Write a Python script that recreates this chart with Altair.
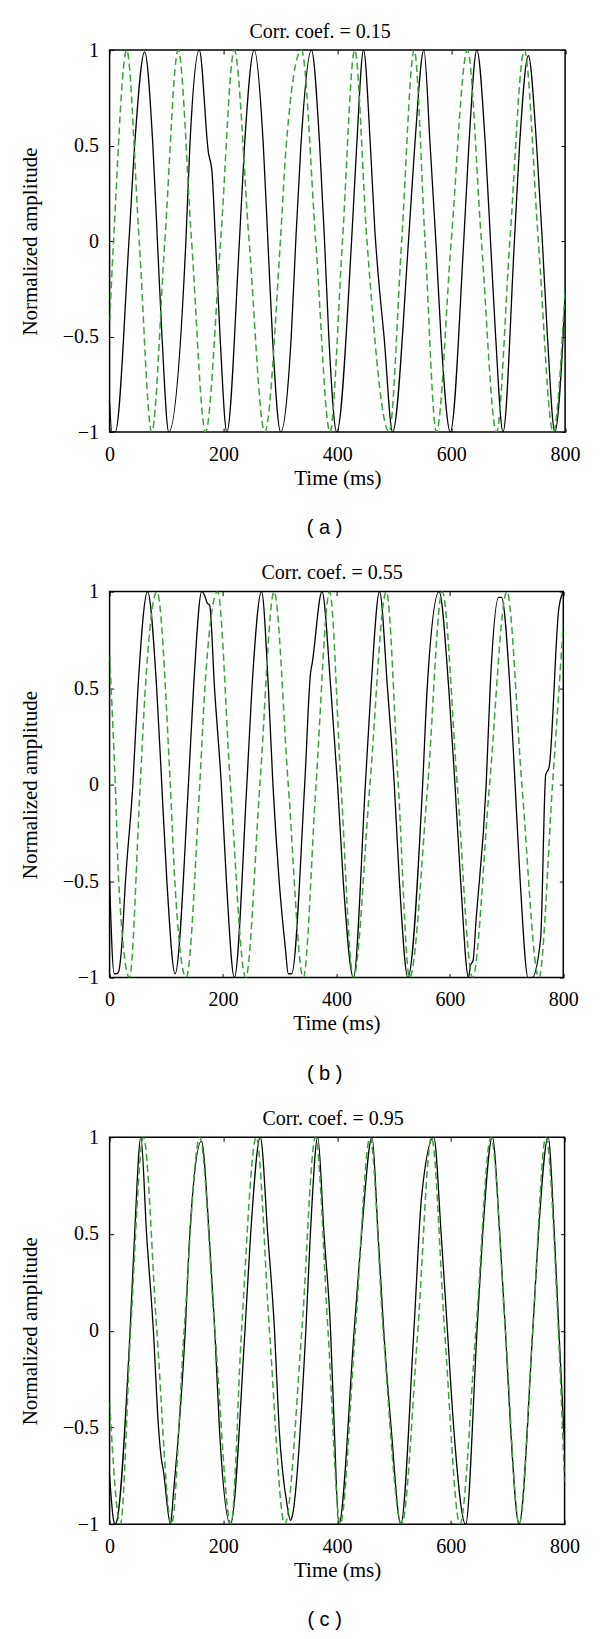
import altair as alt
import pandas as pd

SERIF = "Liberation Serif"
SANS = "Liberation Sans"
BLACK = "#000000"
GREEN = "#3ca03c"

X_TICKS = [0, 200, 400, 600, 800]
Y_TICKS = [-1, -0.5, 0, 0.5, 1]

TITLES = ["Corr. coef. = 0.15", "Corr. coef. = 0.55", "Corr. coef. = 0.95"]
LABELS = ["( a )", "( b )", "( c )"]
X_TITLE = "Time (ms)"
Y_TITLE = "Normalized amplitude"

# ---- panel (a) ----
a_black_t = [0, 4, 10, 34, 44, 61.5, 76, 84, 92, 104, 134, 141, 157.5, 173.7, 179.6, 186, 194, 206,
             228, 237, 254, 270, 278, 286, 300.5, 319, 327, 336, 354.5, 369, 377.5, 385, 399,
             425, 434, 446, 458, 466, 471, 482, 497, 525, 536, 552, 563, 573, 582, 598.5,
             622, 631, 645, 660, 669, 678, 691, 711, 720, 735.5, 750, 760, 769, 782, 800]
a_black_v = [-0.85, -1, -1, 0, 0.5, 0.99, 0.5, 0, -0.5, -1, 0, 0.5, 1, 0.46, 0.37, 0, -0.5, -1,
             0, 0.5, 1, 0.5, 0, -0.5, -1, -0.5, 0, 0.5, 1, 0.5, 0, -0.5, -1,
             0, 0.5, 1, 0.5, 0.05, -0.15, -0.5, -1, 0, 0.5, 1, 0.5, 0, -0.5, -1,
             0, 0.5, 1, 0.5, 0, -0.5, -1, 0, 0.5, 0.97, 0.5, 0, -0.5, -1, -0.3]
a_green_t = [0, 7, 30, 52, 74, 97, 120.5, 144, 168.5, 195, 219, 245, 272.5, 300, 309, 337, 362, 387,
             409, 430.5, 452, 491, 513, 535, 554, 574, 600, 628.5, 653, 679.5, 703, 728.5, 753, 779, 800]
a_green_v = [-0.42, 0, 1, 0, -1, 0, 1, 0, -1, 0, 1, 0, -1, 0, 0.45, 1, 0, -1,
             0, 1, 0, -1, 0, 1, 0, -1, 0, 1, 0, -1, 0, 1, 0, -1, -0.25]

# ---- panel (b) ----
b_black_t = [0, 8, 12, 15.8, 20.5, 28, 41, 50, 67, 83, 92, 101, 115.5, 139, 148, 162.5, 167.6, 172.2,
             176.4, 185, 197, 206, 220, 242, 251, 268, 280, 288, 299, 310, 315, 321, 344, 354.4,
             357.3, 374.5, 390, 402, 412, 430, 451, 461, 476, 490, 502, 511, 526, 552, 560, 581,
             598, 609, 619, 633, 636, 641, 646, 664, 671, 686, 691, 706, 715, 724, 738, 745,
             760, 769, 775, 792, 800]
b_black_v = [-0.5, -0.98, -0.98, -0.97, -0.87, -0.5, 0, 0.5, 1, 0.5, 0, -0.5, -0.98, 0, 0.5, 1, 0.98, 0.94,
             0.93, 0.5, 0, -0.5, -1, 0, 0.5, 1, 0.5, 0, -0.5, -0.85, -0.98, -0.98, 0, 0.58,
             0.63, 1, 0.5, 0, -0.5, -1, 0, 0.5, 1, 0.5, 0, -0.5, -1, 0, 0.5, 1,
             0.5, 0, -0.5, -1, -0.94, -0.91, -0.71, 0, 0.5, 0.97, 0.97, 0.5, 0, -0.5, -1, -1,
             -0.8, 0.05, 0.09, 0.91, 1]
b_green_t = [0, 10, 16, 35, 54, 63, 83.5, 107, 115, 135, 159, 168, 190.5, 213, 240, 265, 290, 315,
             341.5, 364, 388, 408, 430, 459, 488, 509, 529, 561, 586.5, 613, 640, 670, 700.5,
             727, 757, 781, 800]
b_green_v = [0.67, 0, -0.5, -1, 0, 0.5, 1, 0, -0.5, -1, 0, 0.5, 1, 0, -1, 0, 1, 0,
             -1, 0, 1, 0, -1, 0, 1, 0, -1, 0, 1, 0, -1, 0, 1,
             0, -1, 0, 0.83]

# ---- panel (c) ----
c_black_t = [0, 7, 10, 13, 36, 44, 55, 65, 77, 86, 91.4, 94.4, 107, 112.3, 133, 141, 161.5, 175, 185,
             193, 212.5, 238, 248, 265, 278, 290, 298, 312, 318, 321, 345, 353, 366, 377, 388.5,
             395, 403, 430, 443, 461.5, 472, 482, 495, 512, 535, 548.5, 570, 583, 594, 605, 626,
             646, 656, 673, 686, 696, 705, 720, 744, 754, 771, 782, 790, 800]
c_black_v = [-0.75, -0.98, -1, -0.98, 0, 0.5, 1, 0.5, 0, -0.5, -0.67, -0.72, -1, -0.84, 0, 0.5, 0.98, 0.5, 0,
             -0.5, -1, 0, 0.5, 1, 0.5, 0, -0.5, -0.9, -0.98, -0.96, 0, 0.5, 1, 0.5, 0,
             -0.5, -1, 0, 0.5, 1, 0.5, 0, -0.5, -1, 0, 0.69, 1, 0.5, 0, -0.5, -1,
             0, 0.5, 1, 0.5, 0, -0.5, -1, 0, 0.5, 1, 0.5, 0, -0.6]
c_green_t = [0, 19, 37, 59.5, 83, 109, 131, 158.5, 185, 213.5, 232, 258, 281, 308, 338, 362, 384,
             405.5, 432, 458, 481, 513.5, 542, 566, 589, 616, 644, 670.5, 696, 720, 744, 767, 789, 800]
c_green_v = [-0.37, -1, 0, 1, 0, -1, 0, 1, 0, -1, 0, 1, 0, -1, 0, 1, 0,
             -1, 0, 1, 0, -1, 0, 1, 0, -1, 0, 1, 0, -1, 0, 1, 0, -0.78]

Y_LABEL_EXPR = "datum.value < 0 ? '\u2212' + format(-datum.value, '~g') : format(datum.value, '~g')"


def line_df(t, v):
    return pd.DataFrame({"t": t, "v": v})


def panel(bt, bv, gt, gv, title, label, w, h, title_x, label_dx, ytitle_pad):
    xs = alt.Scale(domain=[0, 800], nice=False, zero=False)
    ys = alt.Scale(domain=[-1, 1], nice=False, zero=False)
    x_bottom = alt.Axis(orient="bottom", values=X_TICKS, format="d", title=X_TITLE,
                        offset=-4, tickSize=4, labelPadding=12, labelFlush=False,
                        titleBaseline="alphabetic", titleY=56, titleAlign="center",
                        titleFontSize=21)
    y_left = alt.Axis(orient="left", values=Y_TICKS, labelExpr=Y_LABEL_EXPR, title=Y_TITLE,
                      offset=-4, tickSize=4, labelPadding=11, labelFlush=False,
                      titlePadding=ytitle_pad, titleFontSize=21)
    x_top = alt.Axis(orient="top", values=X_TICKS, labels=False, title=title,
                     offset=-4, tickSize=4, titleX=title_x, titleY=-17,
                     titleBaseline="alphabetic", titleAlign="center", titleFontSize=20)
    y_right = alt.Axis(orient="right", values=Y_TICKS, labels=False, title=None,
                       offset=-4, tickSize=4)
    black = alt.Chart(line_df(bt, bv)).mark_line(
        color=BLACK, strokeWidth=1.3, interpolate="monotone", clip=True
    ).encode(
        x=alt.X("t:Q", scale=xs, axis=x_bottom),
        y=alt.Y("v:Q", scale=ys, axis=y_left),
    )
    green = alt.Chart(line_df(gt, gv)).mark_line(
        color=GREEN, strokeWidth=1.5, strokeDash=[7, 4], interpolate="monotone", clip=True
    ).encode(
        x=alt.X("t:Q", scale=xs, axis=x_top),
        y=alt.Y("v:Q", scale=ys, axis=y_right),
    )
    return alt.layer(black, green).resolve_axis(x="independent", y="independent").properties(
        width=w, height=h,
        title=alt.TitleParams(label, orient="bottom", anchor="middle", frame="group",
                              dx=label_dx, offset=30, font=SANS, fontSize=20,
                              fontWeight="normal", color="black"),
    )


# all plot areas share one left edge (x = 109); widths reach each panel's right edge
pa = panel(a_black_t, a_black_v, a_green_t, a_green_v, TITLES[0], LABELS[0], 455.5, 382, 210, -12.8, 21.8)
pb = panel(b_black_t, b_black_v, b_green_t, b_green_v, TITLES[1], LABELS[1], 453.7, 386, 222, -11.8, 21.8)
pc = panel(c_black_t, c_black_v, c_green_t, c_green_v, TITLES[2], LABELS[2], 455, 387, 223, -12.5, 21.8)

chart = alt.concat(pa, pb, pc, columns=1, spacing=22.6).properties(
    padding={"left": 10.6, "right": 5, "top": 12, "bottom": 0}
).configure_view(
    stroke="black", strokeWidth=1.5
).configure_axis(
    labelFont=SERIF, labelFontSize=20, labelColor="black", labelFontWeight="normal",
    titleFont=SERIF, titleFontWeight="normal", titleColor="black",
    tickColor="black", tickWidth=1, grid=False, domain=False,
).configure_title(
    font=SANS, fontSize=20, fontWeight="normal", color="black"
)

chart.save("out.html", embed_options={"renderer": "svg", "actions": False})
